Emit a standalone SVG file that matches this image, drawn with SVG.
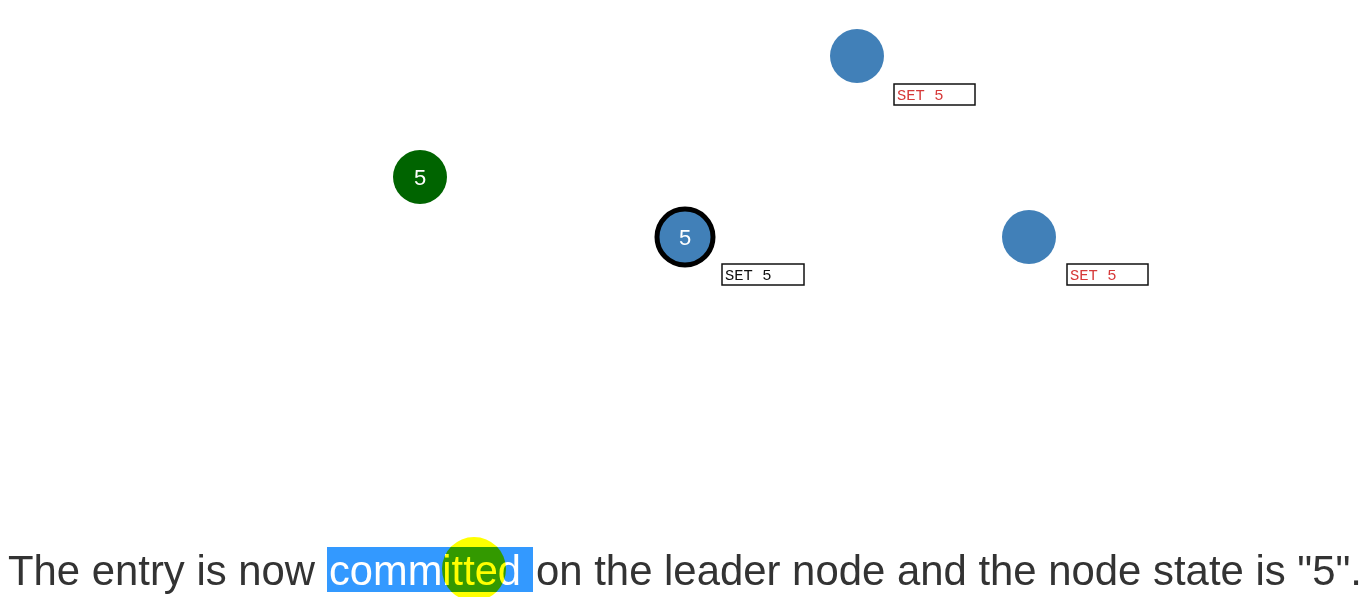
<svg xmlns="http://www.w3.org/2000/svg" width="1367" height="597" viewBox="0 0 1367 597">
<style>
.node{fill:#4180b8}
.num{font-family:"Liberation Sans",Arial,sans-serif;font-size:22px;fill:#ffffff;text-anchor:middle}
.box{fill:#ffffff;stroke:#111111;stroke-width:1.5}
.lbl{font-family:"Liberation Mono","Courier New",monospace;font-size:15.5px}
.red{fill:#d63a3a}
.blk{fill:#111111}
.cap{font-family:"Liberation Sans",Arial,Helvetica,sans-serif;font-size:42px;fill:#333333}
</style>
<rect width="1367" height="597" fill="#ffffff"/>
<g id="connectors"></g>
<g id="node-top">
<circle class="node" cx="857" cy="56" r="27"/>
<rect class="box" x="894" y="84" width="81" height="21"/>
<text class="lbl red" x="897" y="100">SET 5</text>
</g>
<g id="node-client">
<circle cx="420" cy="177" r="27" fill="#006400"/>
<text class="num" x="420" y="185">5</text>
</g>
<g id="node-leader">
<circle class="node" cx="685" cy="237" r="28" stroke="#000000" stroke-width="5"/>
<text class="num" x="685" y="245">5</text>
<rect class="box" x="722" y="264" width="82" height="21"/>
<text class="lbl blk" x="725" y="280">SET 5</text>
</g>
<g id="node-right">
<circle class="node" cx="1029" cy="237" r="27"/>
<rect class="box" x="1067" y="264" width="81" height="21"/>
<text class="lbl red" x="1070" y="280">SET 5</text>
</g>
<g id="caption">
<rect x="327" y="547" width="206" height="45" fill="#3399ff"/>
<text class="cap" x="8" y="585" textLength="307" lengthAdjust="spacingAndGlyphs">The entry is now</text>
<text class="cap" x="329" y="585" style="fill:#ffffff" textLength="192" lengthAdjust="spacingAndGlyphs">committed</text>
<text class="cap" x="536" y="585" textLength="826" lengthAdjust="spacingAndGlyphs">on the leader node and the node state is "5".</text>
<circle cx="474" cy="569" r="32" fill="#ffff00" style="mix-blend-mode:multiply"/>
</g>
</svg>
